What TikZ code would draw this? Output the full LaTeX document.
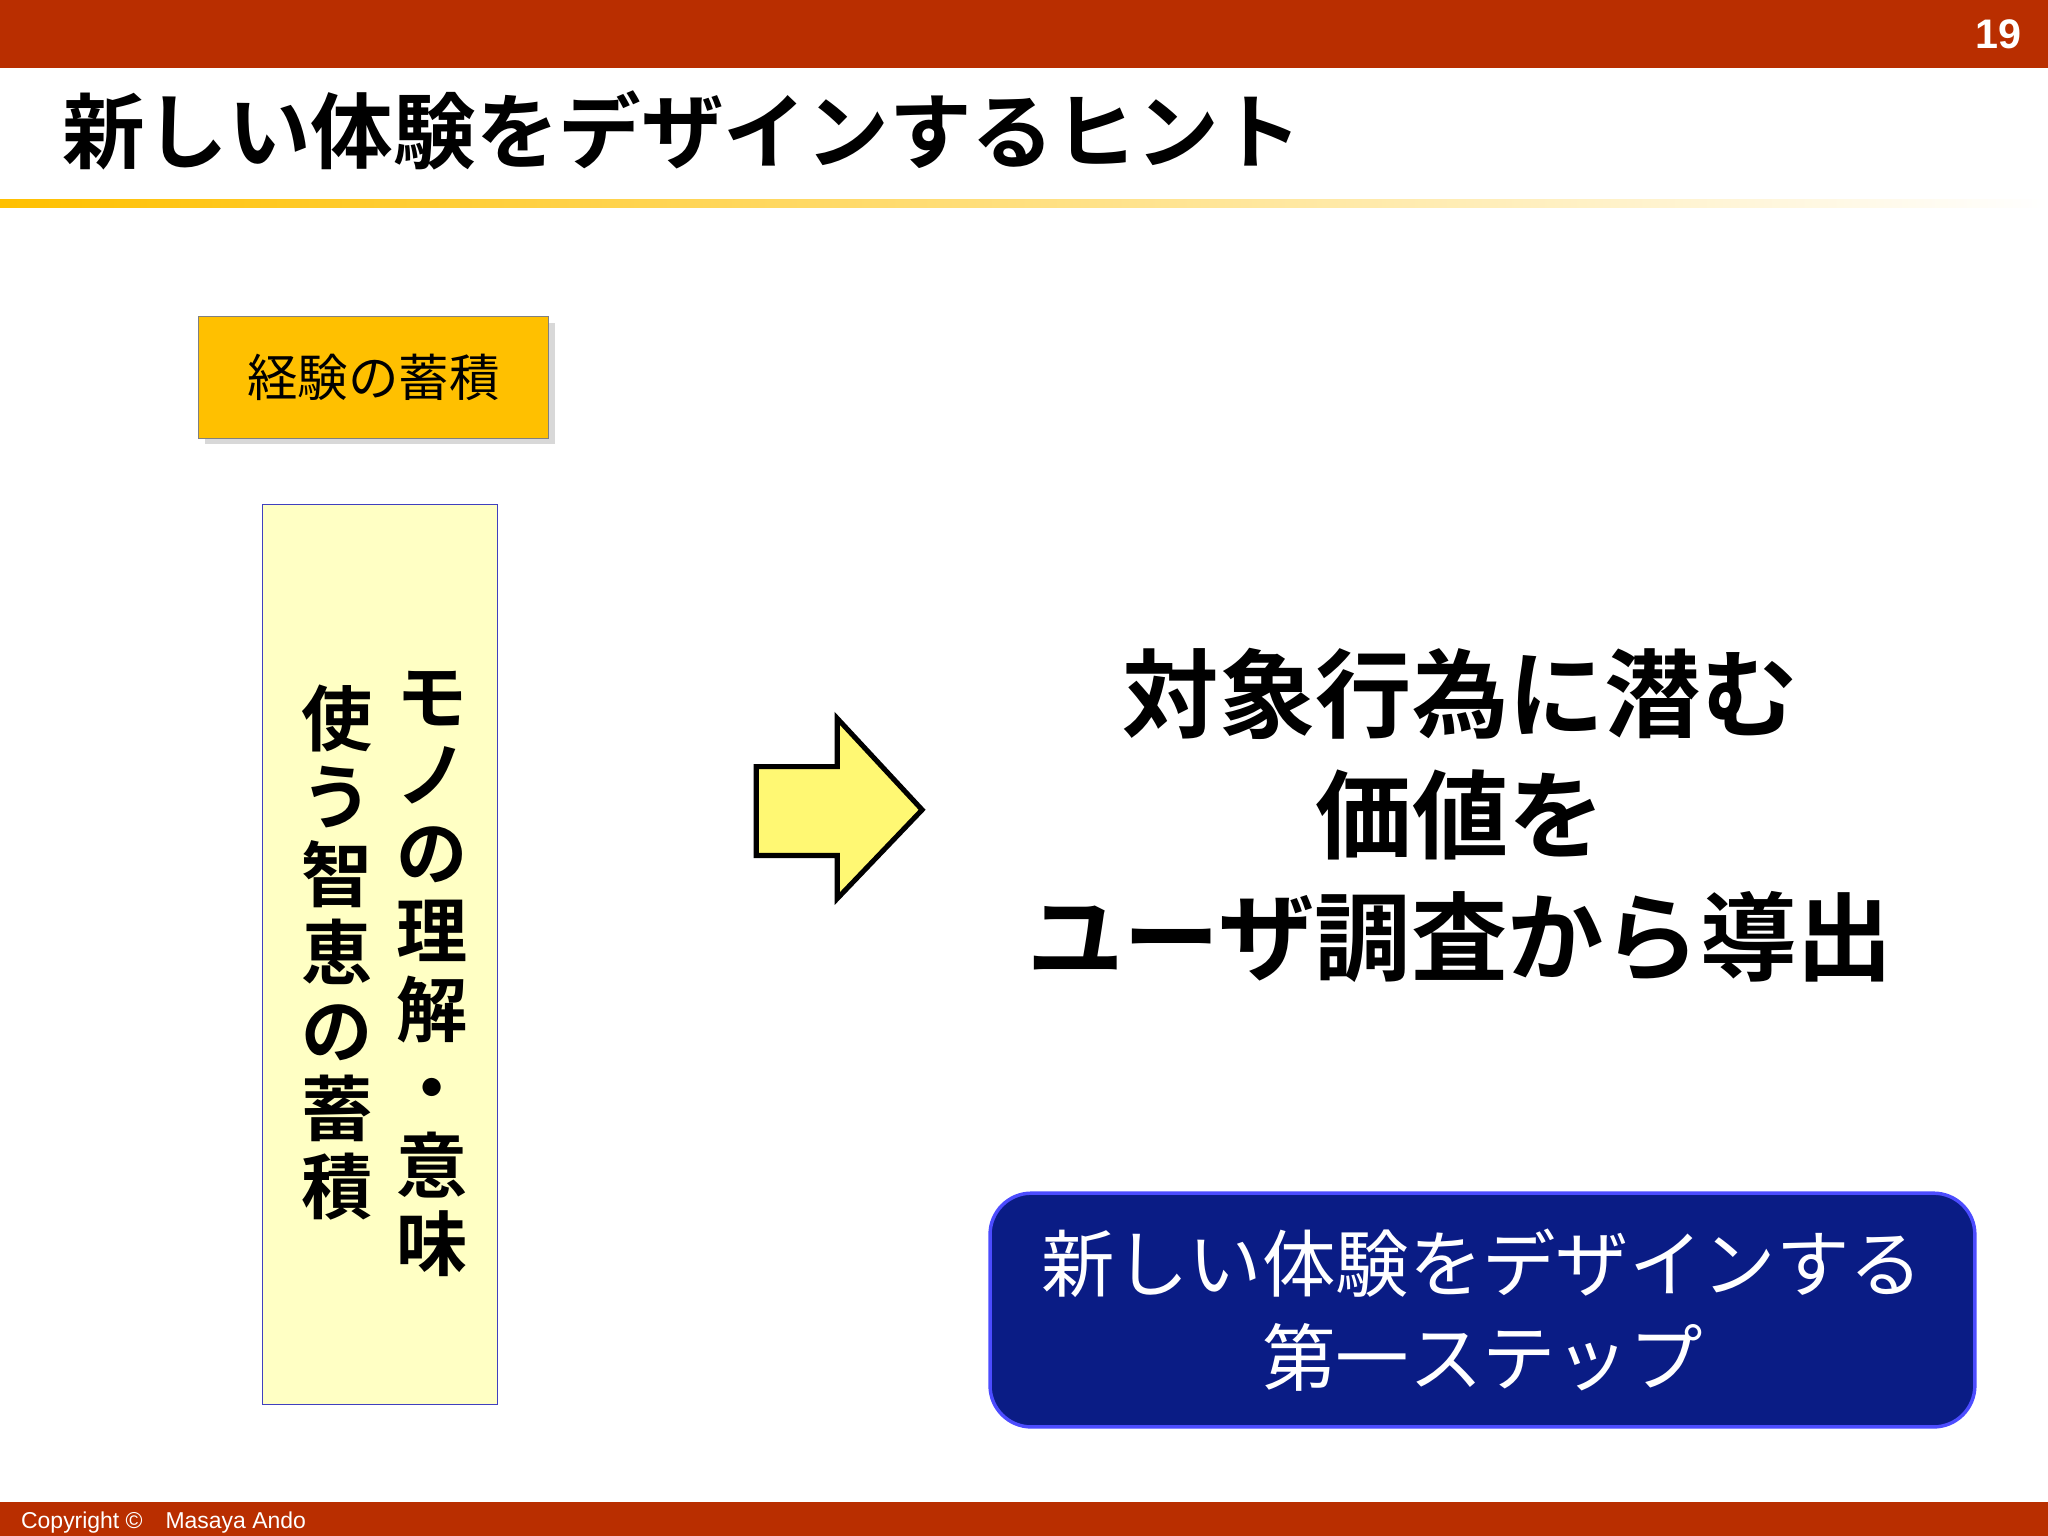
\documentclass[tikz,border=0pt]{standalone}
\usepackage{fontspec}
\setmainfont{Liberation Sans}
\newfontfamily\cjk{Noto Sans CJK JP}[BoldFont={Noto Sans CJK JP Bold}]
\usetikzlibrary{shadows}
\definecolor{barred}{HTML}{B92E00}
\definecolor{gold}{HTML}{FFC000}
\definecolor{paleY}{HTML}{FFFFC4}
\definecolor{navy}{HTML}{0A1C85}
\tikzset{px/.style={x=0.02cm,y=-0.02cm}}
\begin{document}
\begin{tikzpicture}[px]
\useasboundingbox (0,0) rectangle (1568,1176);
\fill[white] (0,0) rectangle (1568,1176);
\fill[barred] (0,0) rectangle (1568,52);
\node[text=white,font=\bfseries\fontsize{18}{20}\selectfont] (num) at (1530,26) {19};
\node[anchor=west,font=\cjk\bfseries\fontsize{36}{40}\selectfont] (title) at (42,100) {新しい体験をデザインするヒント};
\shade[left color=gold,right color=white] (0,153) rectangle (1568,159);
\node[draw=gray,fill=gold,minimum width=268*0.02cm,minimum height=93*0.02cm,drop shadow={opacity=0.3},font=\cjk\fontsize{22}{24}\selectfont] (exp) at (286,289) {経験の蓄積};
\node[draw=blue!50!gray,fill=paleY,minimum width=180*0.02cm,minimum height=689*0.02cm] (vbox) at (291,731) {};
\node[font=\cjk\bfseries\fontsize{31}{34}\selectfont,align=center,anchor=north] (v1) at (331,508) {モ\\ノ\\の\\理\\解\\・\\意\\味};
\node[font=\cjk\bfseries\fontsize{31}{34}\selectfont,align=center,anchor=north] (v2) at (258,518) {使\\う\\智\\恵\\の\\蓄\\積};
\draw[line width=2.2pt,fill=yellow!55] (579,587) -- (641,587) -- (641,550) -- (706,620) -- (641,688) -- (641,655) -- (579,655) -- cycle;
\node[font=\cjk\bfseries\fontsize{42}{53}\selectfont,align=center] (main) at (1118,624) {対象行為に潜む\\価値を\\ユーザ調査から導出};
\node[draw=blue!70!white,line width=1.5pt,fill=navy,rounded corners=18,minimum width=754*0.02cm,minimum height=179*0.02cm,text=white,align=center,font=\cjk\fontsize{32}{41}\selectfont] (step) at (1135,1003) {新しい体験をデザインする\\第一ステップ};
\fill[barred] (0,1150) rectangle (1568,1176);
\node[anchor=west,text=white,font=\fontsize{10}{12}\selectfont] (copy) at (10,1166) {Copyright ©\quad Masaya Ando};
\end{tikzpicture}
\end{document}
